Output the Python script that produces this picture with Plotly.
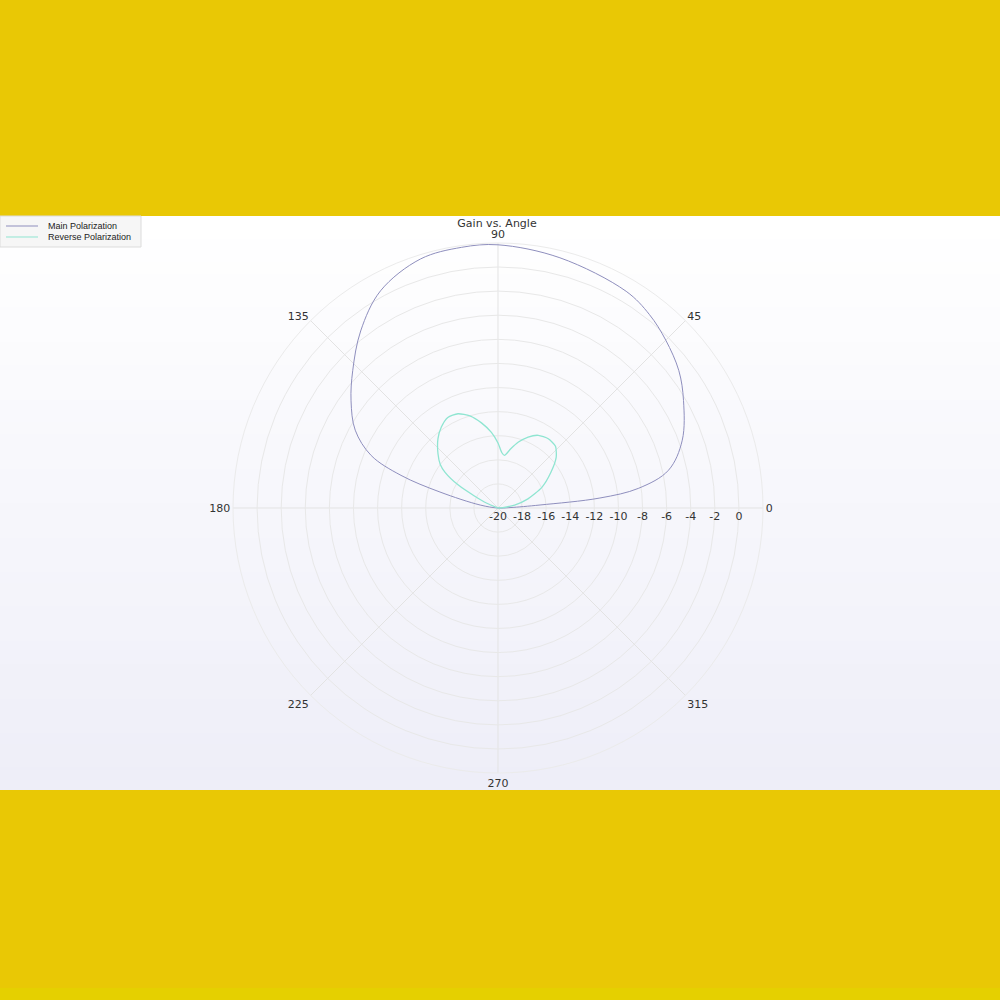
import plotly.graph_objects as go

# Gain vs. Angle, polar plot of the antenna pattern

chart_title = "Gain vs. Angle"
series_names = ["Main Polarization", "Reverse Polarization"]
series_colors = ["#8e8ebd", "#8fe5d1"]

# angles in degrees, gain in dB
main_angle = [0, 2, 4.1, 5.6, 8, 12.5, 20.2, 30.1, 37.2, 45, 52, 59.4, 76.1, 90,
              98, 107.3, 118.4, 127.8, 136.6, 143.9, 151.4, 157.5, 161.4, 164.6, 170.5, 180]
main_gain = [-20, -19, -16.5, -11.5, -8.2, -5.5, -3.7, -2.2, -1.15, -0.3, 0.4, 0.9, 1.4, 1.85,
             1.85, 1.65, 0.5, -1.4, -3.4, -4.9, -6.5, -8.6, -11.5, -15, -18.5, -20]

rev_angle = [0, 5, 10, 17, 25, 34, 41, 47, 54, 61, 67, 73, 78, 83, 86, 90, 95, 101, 107,
             113, 119, 125, 131, 138, 143, 146, 150, 153, 157, 160, 170, 180]
rev_gain = [-20, -19.6, -18.6, -17.4, -16.0, -14.7, -13.6, -13.0, -12.9, -13.1, -13.6, -14.3,
            -15.0, -15.6, -15.4, -14.6, -13.7, -12.8, -12.0, -11.5, -11.4, -11.8, -12.4, -13.3,
            -14.0, -14.7, -16.2, -17.8, -19.0, -19.8, -20, -20]

radial_ticks = [-20, -18, -16, -14, -12, -10, -8, -6, -4, -2, 0]
radial_labels = [str(v) for v in radial_ticks]  # plain hyphen minus like the original
angle_ticks = [0, 45, 90, 135, 180, 225, 270, 315]


def px_x(x):
    return x / 1000


def px_y(y):
    return 1 - y / 1000


fig = go.Figure()

fig.add_trace(go.Scatterpolar(
    r=main_gain, theta=main_angle, mode="lines", name=series_names[0],
    line=dict(color=series_colors[0], width=1, shape="spline", smoothing=1.0),
    subplot="polar2", showlegend=False,
))
fig.add_trace(go.Scatterpolar(
    r=rev_gain, theta=rev_angle, mode="lines", name=series_names[1],
    line=dict(color=series_colors[1], width=1.3, shape="spline", smoothing=0.6),
    subplot="polar2", showlegend=False,
))

# page background: yellow bands with a white -> lavender panel between them
shapes = []
top_px, bot_px = 216, 790
n = 50
for i in range(n):
    t = i / (n - 1)
    rr = int(round(255 + (238 - 255) * t))
    gg = int(round(255 + (238 - 255) * t))
    bb = int(round(255 + (248 - 255) * t))
    y_top = top_px + (bot_px - top_px) * i / n
    # each band runs to the panel bottom so no seams show
    shapes.append(dict(
        type="rect", xref="paper", yref="paper", layer="below",
        x0=0, x1=1, y0=px_y(bot_px), y1=px_y(y_top),
        fillcolor=f"rgb({rr},{gg},{bb})", line=dict(width=0),
    ))
shapes.append(dict(type="rect", xref="paper", yref="paper", layer="below",
                   x0=0, x1=1, y0=0, y1=0.012, fillcolor="#e5d000", line=dict(width=0)))

# compact legend box, drawn by hand (plotly's legend rows are taller)
shapes.append(dict(type="rect", xref="paper", yref="paper", layer="above",
                   x0=px_x(0), x1=px_x(141), y0=px_y(247), y1=px_y(216),
                   fillcolor="#f6f6f6", line=dict(color="#dcdcdc", width=1)))
annotations = []
for k, (name, col) in enumerate(zip(series_names, series_colors)):
    yy = 226 + 11 * k
    shapes.append(dict(type="line", xref="paper", yref="paper", layer="above",
                       x0=px_x(6), x1=px_x(38), y0=px_y(yy), y1=px_y(yy),
                       line=dict(color=col, width=1)))
    annotations.append(dict(text=name, xref="paper", yref="paper", x=px_x(46), y=px_y(yy),
                            xanchor="left", yanchor="middle", showarrow=False,
                            font=dict(family="Liberation Sans", size=9, color="#222222")))

dom_x = [0.233, 0.763]
dom_y = [0.227, 0.757]

fig.update_layout(
    width=1000, height=1000,
    margin=dict(l=0, r=0, t=0, b=0),
    paper_bgcolor="#e9c805",
    font=dict(family="DejaVu Sans", size=11, color="#333333"),
    title=dict(text=chart_title, x=0.497, y=0.777, xanchor="center", yanchor="middle",
               font=dict(family="DejaVu Sans", size=11, color="#333333")),
    shapes=shapes,
    annotations=annotations,
    showlegend=False,
    # minor grid underneath
    polar=dict(
        domain=dict(x=dom_x, y=dom_y),
        bgcolor="white",
        radialaxis=dict(range=[-20, 2], dtick=0.5, showticklabels=False, ticks="",
                        showline=False, gridcolor="#f1f1f1", gridwidth=1),
        angularaxis=dict(showgrid=False, showticklabels=False, ticks="", showline=False,
                         direction="counterclockwise", rotation=0),
    ),
    # major grid + data on top
    polar2=dict(
        domain=dict(x=dom_x, y=dom_y),
        bgcolor="rgba(0,0,0,0)",
        radialaxis=dict(range=[-20, 2], tickvals=radial_ticks, ticktext=radial_labels,
                        angle=0, tickangle=0, side="clockwise", ticks="", showline=False,
                        gridcolor="#e8e8e8", gridwidth=1,
                        tickfont=dict(size=11, color="#333333")),
        angularaxis=dict(tickvals=angle_ticks, direction="counterclockwise", rotation=0,
                         ticks="", showline=True, linecolor="#ebebeb",
                         gridcolor="#e3e3e3", tickfont=dict(size=11, color="#333333")),
    ),
)

fig.write_html("out.html", config={"displayModeBar": False},
               post_script="document.body.style.margin='0';")
